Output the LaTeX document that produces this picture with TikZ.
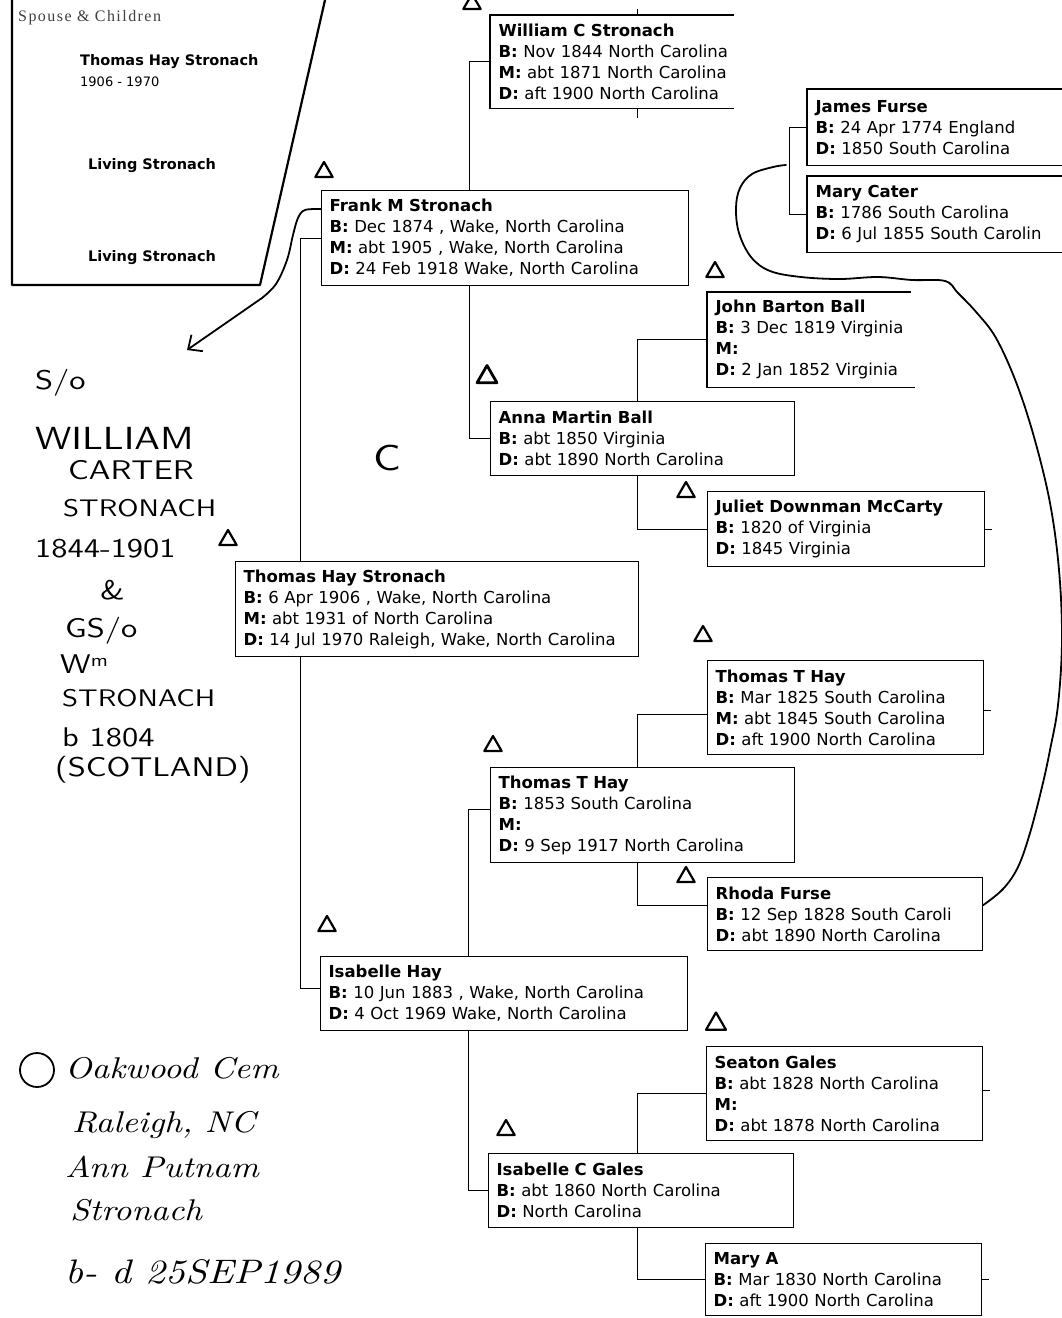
\documentclass[tikz,border=0pt]{standalone}
\usepackage{fontspec}
\usetikzlibrary{shapes.geometric,arrows.meta}
\newfontfamily\chartfont{DejaVu Sans}
\newfontfamily\spousefont{Liberation Serif}[LetterSpace=9]
\newfontfamily\handfont{lmsans10-regular.otf}[FakeStretch=1.2]
\newfontfamily\cursivefont{lmroman10-italic.otf}[FakeStretch=1.15]
\begin{document}
\begin{tikzpicture}[x=1pt,y=-1pt]
	\tikzstyle{person}=[draw,rectangle,anchor=north west,line width=1.2pt,inner xsep=8pt,inner ysep=2pt,align=left,font=\chartfont\fontsize{16.5}{21}\selectfont];
	\tikzstyle{openbox}=[person,draw=none];
	\tikzstyle{link}=[line width=1pt];
	\tikzstyle{pen}=[line width=1.8pt,line cap=round,line join=round];
	\tikzstyle{delta}=[draw,regular polygon,regular polygon sides=3,minimum size=20pt,inner sep=0pt,line width=2.2pt,line join=round];
	\tikzstyle{hand}=[anchor=west,inner sep=0pt,font=\handfont\fontsize{27}{27}\selectfont];
	\tikzstyle{cursive}=[anchor=west,inner sep=0pt,font=\cursivefont\fontsize{30}{30}\selectfont];
	\tikzstyle{panel}=[inner sep=0pt,font=\chartfont\bfseries\fontsize{14.5}{14.5}\selectfont];

	\useasboundingbox (0,0) rectangle (1061,1318);
	\fill[white] (0,0) rectangle (1061,1318);

	% spouse and children panel
	\draw[pen,line width=2.2pt] (12,0) -- (12,285) -- (260,285) -- (325,0);
	\node at (18,18) (spouse) [anchor=west,inner sep=0pt,text=black!75,font=\spousefont\fontsize{16}{16}\selectfont] {Spouse \& Children};
	\node at (80,62) (pname) [panel,anchor=west] {Thomas Hay Stronach};
	\node at (80,82) (pyears) [anchor=west,inner sep=0pt,font=\chartfont\fontsize{13}{13}\selectfont] {1906 - 1970};
	\node at (152,166) (living1) [panel] {Living Stronach};
	\node at (152,258) (living2) [panel] {Living Stronach};

	% people
	\node at (490,15) (wcs) [openbox,text width=260pt,minimum height=92pt] {\textbf{William C Stronach}\\\textbf{B:} Nov 1844 North Carolina\\\textbf{M:} abt 1871 North Carolina\\\textbf{D:} aft 1900 North Carolina};
	\node at (807,89) (jf) [openbox,text width=260pt,minimum height=75pt] {\textbf{James Furse}\\\textbf{B:} 24 Apr 1774 England\\\textbf{D:} 1850 South Carolina};
	\node at (807,176) (mc) [openbox,text width=260pt,minimum height=75pt] {\textbf{Mary Cater}\\\textbf{B:} 1786 South Carolina\\\textbf{D:} 6 Jul 1855 South Carolin};
	\node at (321,190) (fms) [person,text width=351pt,minimum height=95pt] {\textbf{Frank M Stronach}\\\textbf{B:} Dec 1874 , Wake, North Carolina\\\textbf{M:} abt 1905 , Wake, North Carolina\\\textbf{D:} 24 Feb 1918 Wake, North Carolina};
	\node at (707,292) (jbb) [openbox,text width=260pt,minimum height=94pt] {\textbf{John Barton Ball}\\\textbf{B:} 3 Dec 1819 Virginia\\\textbf{M:}\\\textbf{D:} 2 Jan 1852 Virginia};
	\node at (490,401) (amb) [person,text width=288pt,minimum height=74pt] {\textbf{Anna Martin Ball}\\\textbf{B:} abt 1850 Virginia\\\textbf{D:} abt 1890 North Carolina};
	\node at (707,491) (jdm) [person,text width=261pt,minimum height=75pt] {\textbf{Juliet Downman McCarty}\\\textbf{B:} 1820 of Virginia\\\textbf{D:} 1845 Virginia};
	\node at (235,561) (ths) [person,text width=387pt,minimum height=95pt] {\textbf{Thomas Hay Stronach}\\\textbf{B:} 6 Apr 1906 , Wake, North Carolina\\\textbf{M:} abt 1931 of North Carolina\\\textbf{D:} 14 Jul 1970 Raleigh, Wake, North Carolina};
	\node at (707,660) (tth1) [person,text width=260pt,minimum height=94pt] {\textbf{Thomas T Hay}\\\textbf{B:} Mar 1825 South Carolina\\\textbf{M:} abt 1845 South Carolina\\\textbf{D:} aft 1900 North Carolina};
	\node at (490,767) (tth2) [person,text width=288pt,minimum height=95pt] {\textbf{Thomas T Hay}\\\textbf{B:} 1853 South Carolina\\\textbf{M:}\\\textbf{D:} 9 Sep 1917 North Carolina};
	\node at (707,877) (rf) [person,text width=259pt,minimum height=73pt] {\textbf{Rhoda Furse}\\\textbf{B:} 12 Sep 1828 South Caroli\\\textbf{D:} abt 1890 North Carolina};
	\node at (320,956) (ih) [person,text width=351pt,minimum height=74pt] {\textbf{Isabelle Hay}\\\textbf{B:} 10 Jun 1883 , Wake, North Carolina\\\textbf{D:} 4 Oct 1969 Wake, North Carolina};
	\node at (706,1046) (sg) [person,text width=260pt,minimum height=94pt] {\textbf{Seaton Gales}\\\textbf{B:} abt 1828 North Carolina\\\textbf{M:}\\\textbf{D:} abt 1878 North Carolina};
	\node at (488,1153) (icg) [person,text width=289pt,minimum height=74pt] {\textbf{Isabelle C Gales}\\\textbf{B:} abt 1860 North Carolina\\\textbf{D:} North Carolina};
	\node at (705,1243) (ma) [person,text width=260pt,minimum height=72pt] {\textbf{Mary A}\\\textbf{B:} Mar 1830 North Carolina\\\textbf{D:} aft 1900 North Carolina};

	% open box sides
	\draw[line width=1.2pt] ([xshift=244pt]wcs.north west) -- (wcs.north west) -- (wcs.south west) -- ([xshift=244pt]wcs.south west);
	\draw[line width=1.2pt] (jf.north east) -- (jf.north west) -- (jf.south west) -- (jf.south east);
	\draw[line width=1.2pt] (mc.north east) -- (mc.north west) -- (mc.south west) -- (mc.south east);
	\draw[line width=1.2pt] ([xshift=204pt]jbb.north west) -- (jbb.north west) -- (jbb.south west) -- ([xshift=208pt]jbb.south west);

	% family lines
	\draw[link] (wcs.west) -| ([xshift=148pt]fms.north west);
	\draw[link] ([xshift=148pt]fms.south west) |- (amb.west);
	\draw[link] (fms.west) -| ([xshift=65pt]ths.north west);
	\draw[link] ([xshift=65pt]ths.south west) |- ([yshift=5pt]ih.west);
	\draw[link] (jbb.west) -| ([xshift=147pt]amb.north west);
	\draw[link] ([xshift=147pt]amb.south west) |- (jdm.west);
	\draw[link] ([yshift=-7pt]tth1.west) -| ([xshift=147pt]tth2.north west);
	\draw[link] ([xshift=147pt]tth2.south west) |- ([yshift=9pt]rf.west);
	\draw[link] ([yshift=6pt]tth2.west) -| ([xshift=148pt]ih.north west);
	\draw[link] ([xshift=148pt]ih.south west) |- (icg.west);
	\draw[link] (sg.west) -| ([xshift=149pt]icg.north west);
	\draw[link] ([xshift=149pt]icg.south west) |- (ma.west);
	\draw[link] (jf.west) -- ++(-18,0) |- (mc.west);
	\draw[link] ([xshift=147pt]wcs.north west) -- ++(0,-6);
	\draw[link] ([xshift=147pt]wcs.south west) -- ++(0,10);
	\draw[link] (jdm.east) -- ++(7,0);
	\draw[link] ([yshift=-3pt]tth1.east) -- ++(7,0);
	\draw[link] ([yshift=3pt]sg.east) -- ++(7,0);
	\draw[link] (ma.east) -- ++(7,0);

	% pen marks
	\node at (472,4) (d1) [delta] {};
	\node at (324,172) (d2) [delta] {};
	\node at (715,272) (d3) [delta] {};
	\node at (487,377) (d4) [delta,line width=2.8pt,minimum size=23pt] {};
	\node at (228,540) (d5) [delta] {};
	\node at (686,492) (d6) [delta] {};
	\node at (703,636) (d7) [delta] {};
	\node at (493,746) (d8) [delta] {};
	\node at (686,877) (d9) [delta] {};
	\node at (327,926) (d10) [delta] {};
	\node at (716,1024) (d11) [delta,minimum size=23pt] {};
	\node at (506,1130) (d12) [delta] {};
	\node at (387,458) (cmark) [hand,anchor=center,font=\handfont\fontsize{36}{36}\selectfont] {C};

	\coordinate (fursetie) at (786,165);
	\draw[pen] plot[smooth,tension=0.6] coordinates {(fursetie) (773,167) (752,174) (740,188) (736,208) (739,233) (751,257) (770,271) (801,277) (840,279) (878,277) (912,280) (945,281) (958,293) (977,313) (996,338) (1016,382) (1034,437) (1050,503) (1059,570) (1062,640) (1058,705) (1050,750) (1042,787) (1030,833) (1018,867) (1003,889) ([yshift=9pt]rf.east)};

	\coordinate (notes) at (187,350);
	\draw[pen,-{Straight Barb[length=11pt,width=20pt]}] plot[smooth,tension=0.6] coordinates {([yshift=29pt]fms.west) (305,210) (298,218) (293,235) (287,260) (276,284) (262,298)} -- (notes);

	% notes in pen
	\node at (35,383) (son) [hand] {S/o};
	\node at (35,438) (william) [hand,font=\handfont\fontsize{32}{32}\selectfont] {WILLIAM};
	\node at (68,470) (carter) [hand] {CARTER};
	\node at (63,508) (stronacha) [hand,font=\handfont\fontsize{24}{24}\selectfont] {STRONACH};
	\node at (35,549) (years) [hand] {1844-1901};
	\node at (100,590) (amp) [hand] {\&};
	\node at (65,631) (gson) [hand] {GS/o};
	\node at (60,664) (wm) [hand] {W\raisebox{7pt}{\fontsize{18}{18}\selectfont m}};
	\node at (62,698) (stronachb) [hand,font=\handfont\fontsize{24}{24}\selectfont] {STRONACH};
	\node at (62,737) (born) [hand] {b 1804};
	\node at (55,770) (scotland) [hand] {(SCOTLAND)};

	\node at (37,1070) (cem) [draw,circle,pen,minimum size=34pt,inner sep=0pt] {};
	\node at (65,1068) (oakwood) [cursive] {Oakwood Cem};
	\node at (72,1125) (raleigh) [cursive] {Raleigh, NC};
	\node at (65,1167) (annput) [cursive] {Ann Putnam};
	\node at (70,1210) (stronachc) [cursive] {Stronach};
	\node at (65,1272) (bdate) [cursive,font=\cursivefont\fontsize{34}{34}\selectfont] {b- d 25SEP1989};
\end{tikzpicture}
\end{document}
